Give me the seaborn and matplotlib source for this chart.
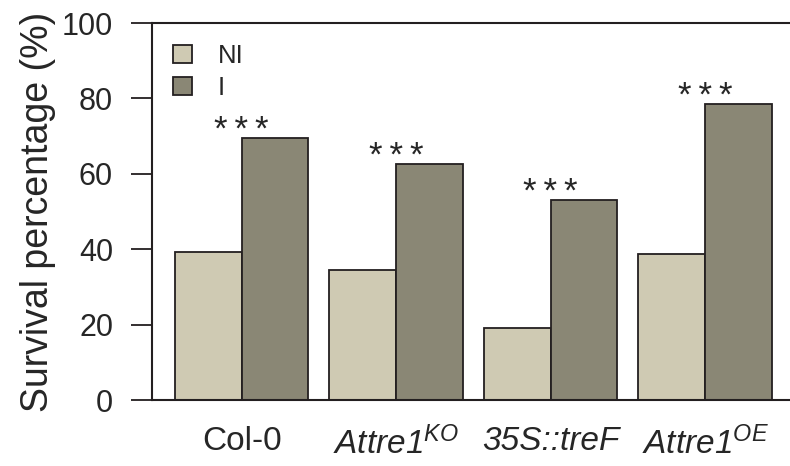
"""
Survival percentage, non-infected vs infected
"""

import numpy as np
import pandas as pd
import matplotlib
matplotlib.use("Agg")
import matplotlib.pyplot as plt
import seaborn as sns

genotypes = ["Col-0", "Attre1KO", "35S::treF", "Attre1OE"]
tick_labels = ["Col-0", "Attre1$^{KO}$", "35S::treF", "Attre1$^{OE}$"]
ni_values = [39.3, 34.5, 19.1, 38.7]
i_values = [69.5, 62.6, 53.0, 78.5]
stars = ["*\u2009*\u2009*"] * 4

data = pd.DataFrame({
    "Genotype": genotypes * 2,
    "Treatment": ["NI"] * 4 + ["I"] * 4,
    "Survival": ni_values + i_values,
})

sns.set_style("ticks")
plt.rcParams["font.family"] = ["Liberation Sans", "DejaVu Sans"]
plt.rcParams["mathtext.fontset"] = "custom"
plt.rcParams["mathtext.it"] = "Liberation Sans:italic"
plt.rcParams["mathtext.rm"] = "Liberation Sans"
plt.rcParams["mathtext.default"] = "it"

fig = plt.figure(figsize=(7.9, 4.66), dpi=100)
ax = fig.add_axes([0.1924, 0.1416, 0.8076, 0.809])

sns.barplot(data=data, x="Genotype", y="Survival", hue="Treatment",
            palette=["#cfcab3", "#8a8775"], edgecolor="#231f20",
            linewidth=1.3, width=0.865, saturation=1, ax=ax)

ax.set_ylim(0, 100)
ax.set_xlim(-0.58, 3.55)
ax.set_yticks([0, 20, 40, 60, 80, 100])
ax.set_xticks(range(4))
ax.set_xticklabels(tick_labels)
for lab in ax.get_xticklabels()[1:]:
    lab.set_fontstyle("italic")
ax.tick_params(axis="y", labelsize=22, length=15, width=1.3, color="#231f20", pad=13)
ax.tick_params(axis="x", labelsize=24, length=0, pad=19)
ax.set_xlabel("")
ax.set_ylabel("Survival percentage (%)", fontsize=27, labelpad=4)

for s in ["left", "top", "bottom"]:
    ax.spines[s].set_linewidth(1.5)
    ax.spines[s].set_color("#231f20")
ax.spines["right"].set_visible(False)

for k, (v, txt) in enumerate(zip(i_values, stars)):
    ax.text(k, v - 0.6, txt, ha="center", va="baseline", fontsize=25)

leg = ax.legend(loc="upper left", frameon=False, fontsize=18.5,
                handlelength=0.74, handleheight=0.74, handletextpad=1.0,
                bbox_to_anchor=(0.033, 0.944), borderaxespad=0, borderpad=0,
                labelspacing=0.3)

fig.savefig("out.png", dpi=100)
